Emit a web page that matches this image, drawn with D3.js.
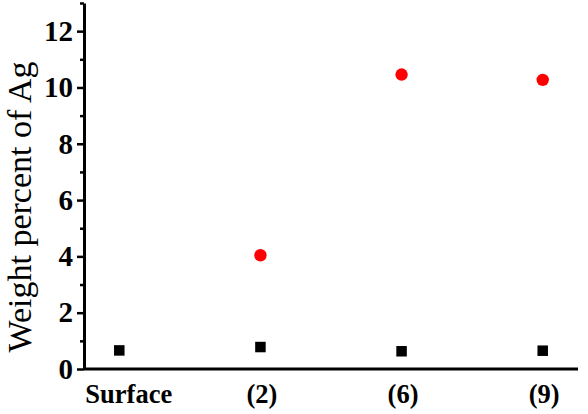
<!DOCTYPE html>
<html>
<head>
<meta charset="utf-8">
<script src="https://cdn.jsdelivr.net/npm/d3@7"></script>
<style>
  body { margin: 0; background: #fff; }
  svg { display: block; }
  svg text { font-family: "Liberation Serif", "Times New Roman", Times, "DejaVu Serif", serif; }
</style>
</head>
<body>
<script>
// data
const categories = ["Surface", "(2)", "(6)", "(9)"];
const blackValues = [0.66, 0.78, 0.63, 0.65];      // squares
const redCats = ["(2)", "(6)", "(9)"];
const redValues = [4.04, 10.46, 10.27];            // circles
const yTicks = [0, 2, 4, 6, 8, 10, 12];

const width = 588, height = 414;
const marginLeft = 84, marginRight = 10, marginTop = 3, marginBottom = 45;

const svg = d3.select("body").append("svg")
    .attr("width", width)
    .attr("height", height);

const x = d3.scalePoint()
    .domain(categories)
    .range([marginLeft, width - marginRight])
    .padding(0.25);

const y = d3.scaleLinear()
    .domain([0, 13])
    .range([height - marginBottom, marginTop]);

// y axis - minor ticks
const yAxisG = svg.append("g")
    .attr("transform", "translate(" + marginLeft + ",0)");
yAxisG.call(d3.axisLeft(y).tickValues(d3.range(1, 14, 2)).tickSize(4).tickFormat(""));
yAxisG.call(g => g.select(".domain").remove());

const yMajor = svg.append("g")
    .attr("transform", "translate(" + marginLeft + ",0)")
    .call(d3.axisLeft(y).tickValues(yTicks).tickSize(7).tickSizeOuter(0).tickPadding(4));
yMajor.attr("font-family", null);
yMajor.select(".domain").attr("stroke-width", 3);
yMajor.selectAll(".tick line").attr("stroke-width", 2.5);
yAxisG.selectAll(".tick line").attr("stroke-width", 2.5);
yMajor.selectAll("text")
    .style("font-weight", "bold")
    .style("font-size", "29px")
    .attr("fill", "#000");

// x axis
const xAxis = svg.append("g")
    .attr("transform", "translate(0," + (height - marginBottom) + ")")
    .call(d3.axisBottom(x).tickSize(0).tickPadding(15));
xAxis.attr("font-family", null);
xAxis.select(".domain")
    .attr("d", "M" + marginLeft + ",0H" + (width - marginRight))
    .attr("stroke-width", 3);
xAxis.selectAll("text")
    .style("font-weight", "bold")
    .style("font-size", "26.5px")
    .attr("fill", "#000")
    .attr("dx", (d, i) => i === 0 ? 9 : 1);

// y title
svg.append("text")
    .attr("transform", "translate(" + 31 + "," + 207 + ") rotate(-90)")
    .attr("text-anchor", "middle")
    .style("font-size", "34px")
    .attr("fill", "#000")
    .text("Weight percent of Ag");

// black squares
const sq = 10.5;
svg.append("g").selectAll("rect")
    .data(categories)
    .join("rect")
    .attr("x", d => x(d) - sq / 2)
    .attr("y", (d, i) => y(blackValues[i]) - sq / 2)
    .attr("width", sq)
    .attr("height", sq)
    .attr("fill", "#000");

// red circles
svg.append("g").selectAll("circle")
    .data(redCats)
    .join("circle")
    .attr("cx", d => x(d))
    .attr("cy", (d, i) => y(redValues[i]))
    .attr("r", 6.2)
    .attr("fill", "#ff0000");
</script>
</body>
</html>
